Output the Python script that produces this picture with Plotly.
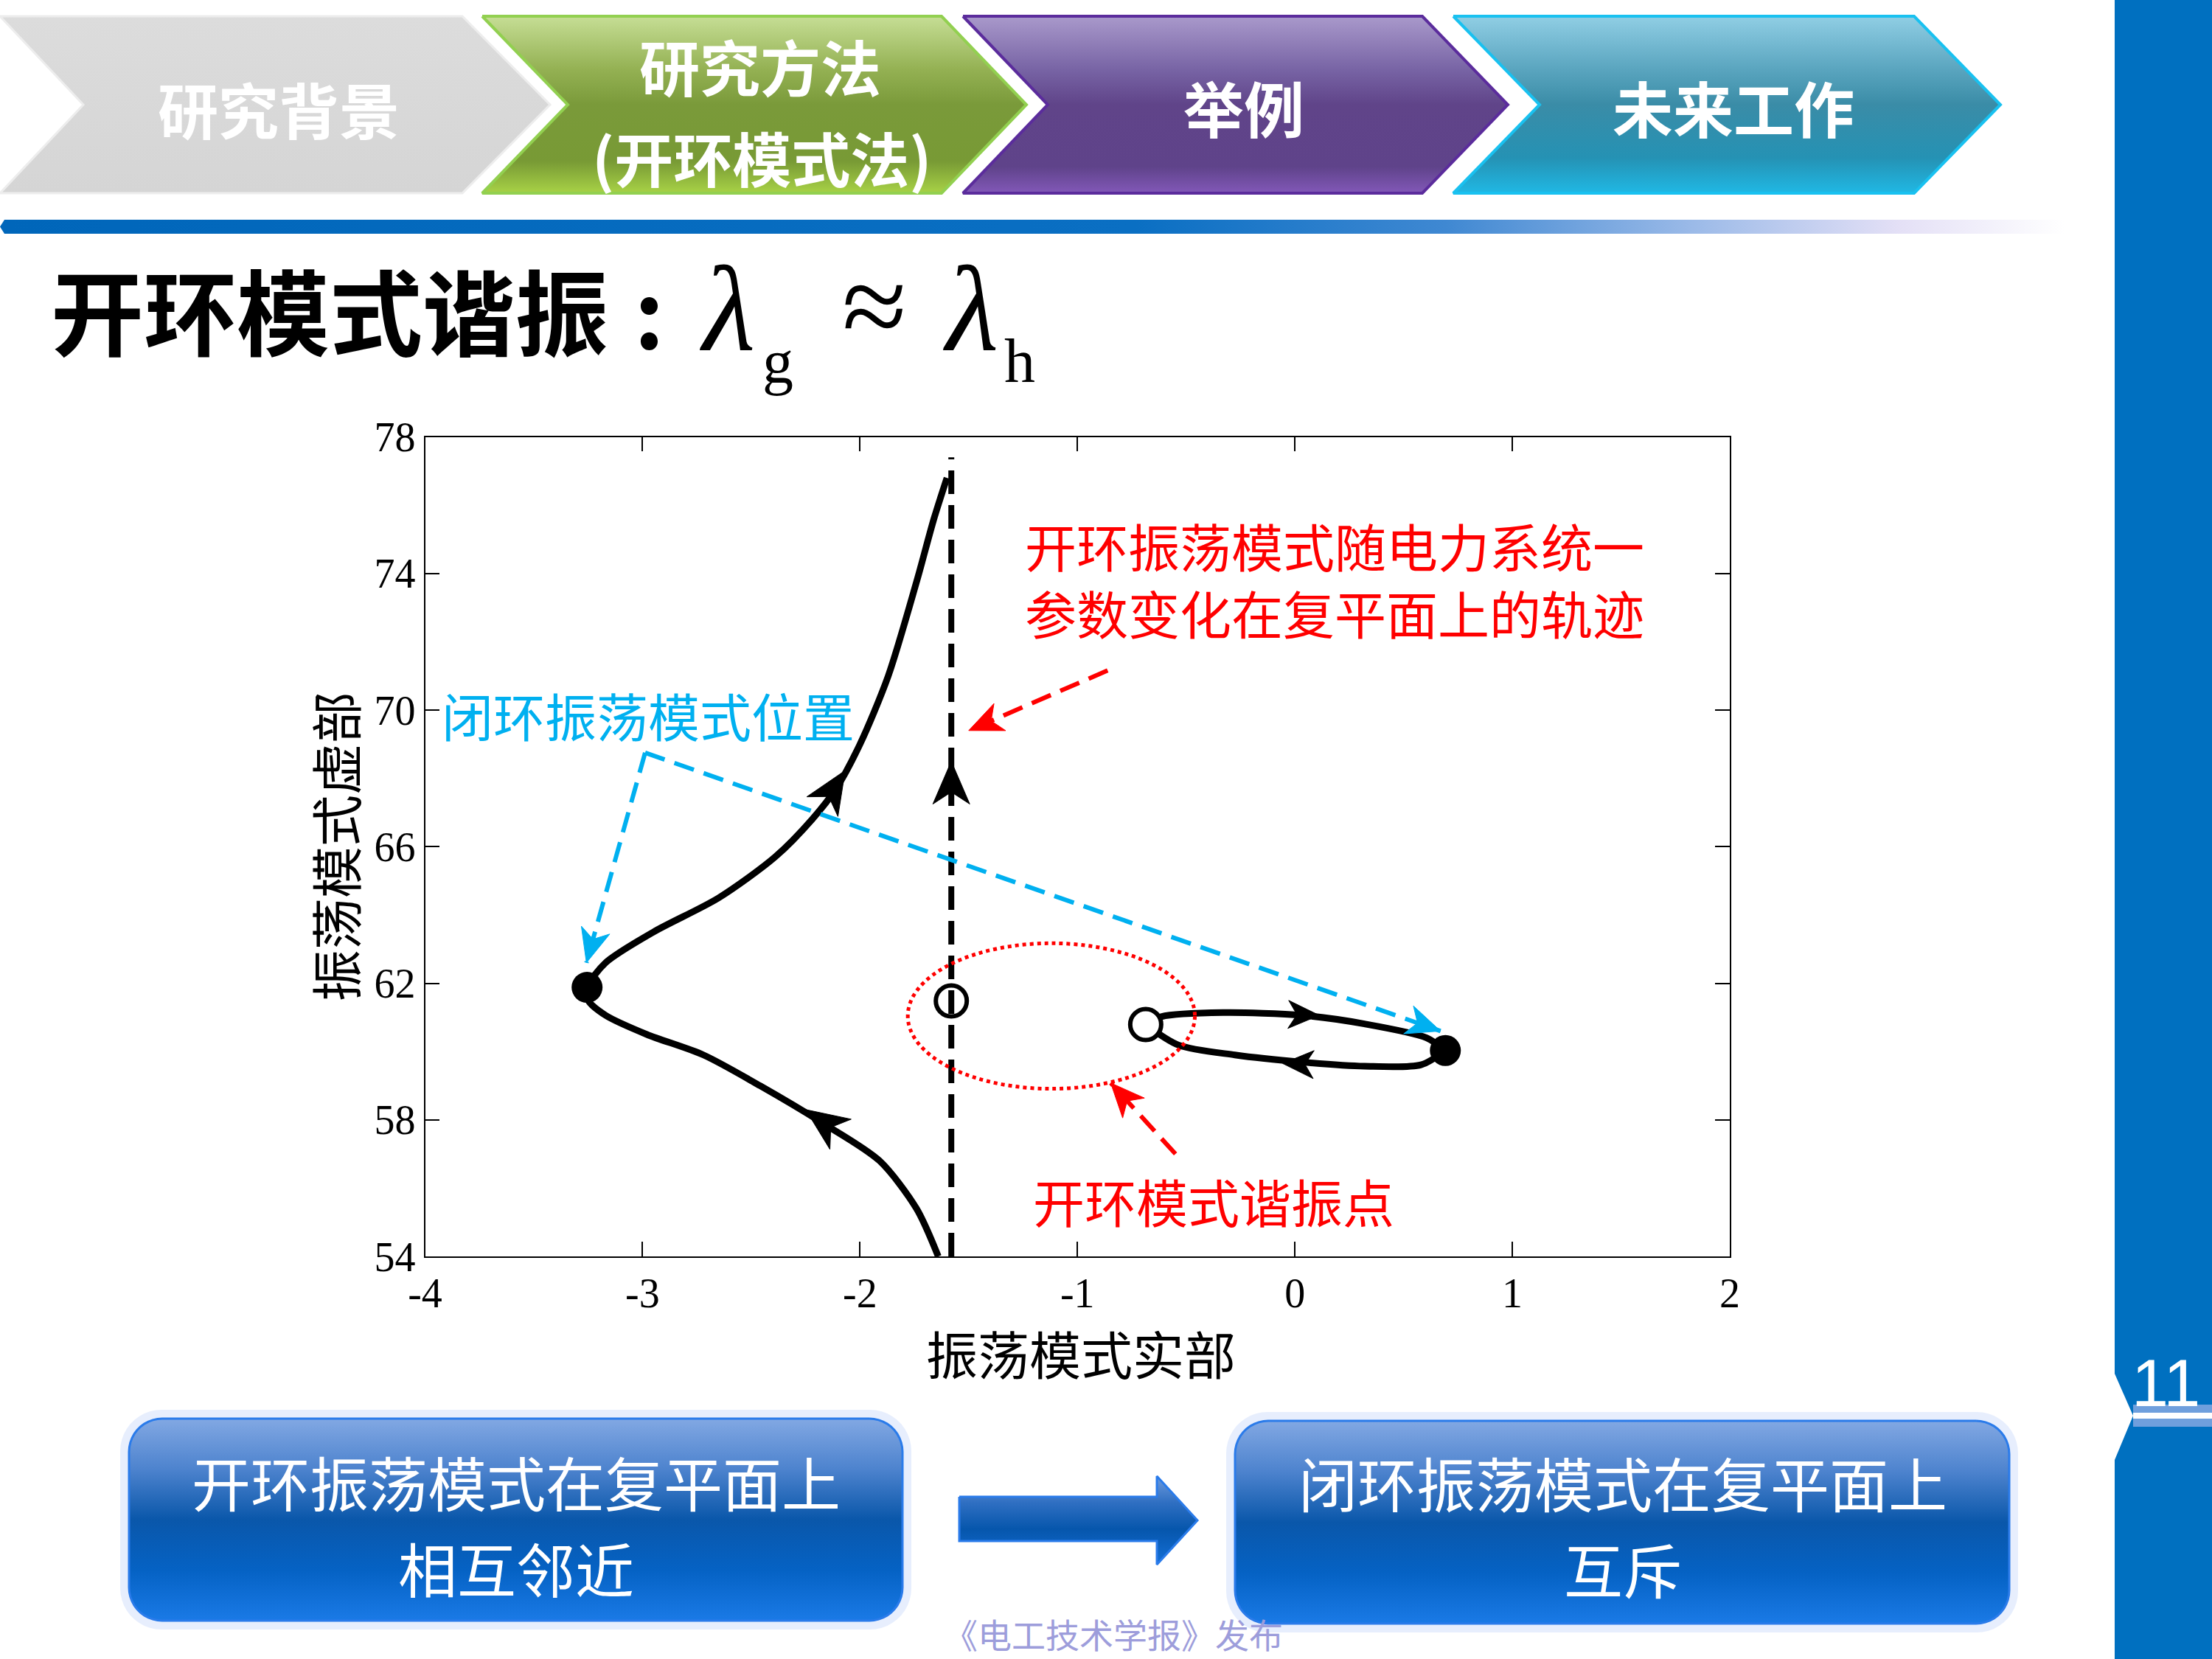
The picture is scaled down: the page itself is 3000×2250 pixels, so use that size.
import numpy as np
import plotly.graph_objects as go

# ---------------- chart data ----------------
x_tick_vals = [-4, -3, -2, -1, 0, 1, 2]
x_tick_text = ["-4", "-3", "-2", "-1", "0", "1", "2"]
y_tick_vals = [54, 58, 62, 66, 70, 74, 78]
y_tick_text = ["54", "58", "62", "66", "70", "74", "78"]

# closed-loop locus (solid black curve), from bottom start to the top end
locus_x = [-1.64, -1.74, -1.91, -2.17, -2.46, -2.72, -2.98, -3.17, -3.25, -3.255,
           -3.17, -2.95, -2.65, -2.39, -2.22, -2.11, -2.00, -1.87, -1.74, -1.66, -1.60]
locus_y = [54.0, 55.4, 56.8, 57.9, 59.0, 59.9, 60.5, 61.06, 61.5, 61.88,
           62.6, 63.5, 64.5, 65.7, 66.8, 67.7, 69.0, 71.0, 73.75, 75.6, 76.8]

# open-loop locus (black dashed vertical line)
open_x = [-1.58, -1.58]
open_y = [54.0, 77.4]

# loop near the right
loop_upper_x = [-0.686, -0.614, -0.329, 0.034, 0.32, 0.606, 0.692]
loop_upper_y = [60.79, 61.02, 61.14, 61.06, 60.81, 60.40, 60.03]
loop_lower_x = [0.692, 0.58, 0.32, 0.034, -0.276, -0.535, -0.686]
loop_lower_y = [60.03, 59.61, 59.57, 59.69, 59.90, 60.19, 60.79]

# points
filled_x = [-3.255, 0.692]
filled_y = [61.88, 60.03]
hollow_x = [-0.686]
hollow_y = [60.79]
ring_x = [-1.58]
ring_y = [61.48]

# direction arrows on the loci (previous point -> tip)
dir_prev_x = [-1.95, -2.20, -1.58, -0.20, 0.30]
dir_prev_y = [56.95, 66.9, 66.0, 61.12, 59.57]
dir_tip_x = [-2.25, -2.068, -1.58, 0.112, -0.056]
dir_tip_y = [58.30, 68.23, 68.5, 61.06, 59.65]

# annotation pointers (start -> tip)
red1_x = [-0.861, -1.50]
red1_y = [71.16, 69.40]
red2_x = [-0.549, -0.847]
red2_y = [57.00, 59.08]
blue1_x = [-2.988, -3.258]
blue1_y = [68.75, 62.60]
blue2_x = [-2.988, 0.67]
blue2_y = [68.75, 60.60]

# resonance ellipse (centre, semi-axes)
ell_c = (-1.12, 61.04)
ell_r = (0.66, 2.13)

RED = "#FF0000"
BLUE = "#00B0F0"
CJK = "Noto Sans CJK SC"
SERIF = "Liberation Serif"

W, H = 3000, 2250
XD = [576.5 / W, 2346 / W]
YD = [1 - 1704 / H, 1 - 592.5 / H]
XR = [-4, 2]
YR = [54, 78]
SX = (XD[1] - XD[0]) * W / (XR[1] - XR[0])   # px per x unit
SY = (YD[1] - YD[0]) * H / (YR[1] - YR[0])   # px per y unit

fig = go.Figure()


def head(tip, prev, L, Wd, color, notch=0.72):
    dx = (tip[0] - prev[0]) * SX
    dy = (tip[1] - prev[1]) * SY
    n = np.hypot(dx, dy)
    ux, uy = dx / n, dy / n
    px, py = -uy, ux
    pts = [(0, 0), (-L * ux + Wd / 2 * px, -L * uy + Wd / 2 * py),
           (-notch * L * ux, -notch * L * uy),
           (-L * ux - Wd / 2 * px, -L * uy - Wd / 2 * py), (0, 0)]
    fig.add_trace(go.Scatter(x=[tip[0] + a / SX for a, b in pts], y=[tip[1] + b / SY for a, b in pts],
                             mode="lines", fill="toself", fillcolor=color,
                             line=dict(color=color, width=1), hoverinfo="skip"))


# ---------------- chart traces ----------------
fig.add_trace(go.Scatter(x=open_x, y=open_y, mode="lines",
                         line=dict(color="black", width=8, dash="32px,15px"), hoverinfo="skip"))
for xs, ys in [(locus_x, locus_y), (loop_upper_x, loop_upper_y), (loop_lower_x, loop_lower_y)]:
    fig.add_trace(go.Scatter(x=xs, y=ys, mode="lines",
                             line=dict(color="black", width=9, shape="spline", smoothing=0.8),
                             hoverinfo="skip"))

# dashed pointers with heads
for xs, ys, col in [(red1_x, red1_y, RED), (red2_x, red2_y, RED),
                    (blue1_x, blue1_y, BLUE), (blue2_x, blue2_y, BLUE)]:
    fig.add_trace(go.Scatter(x=xs, y=ys, mode="lines",
                             line=dict(color=col, width=6, dash="28px,14px"), hoverinfo="skip"))
    head((xs[1], ys[1]), (xs[0], ys[0]), 46, 40, col)

# direction arrowheads
for i in range(len(dir_tip_x)):
    L, Wd = (58, 50) if i < 3 else (42, 38)
    head((dir_tip_x[i], dir_tip_y[i]), (dir_prev_x[i], dir_prev_y[i]), L, Wd, "black")

fig.add_trace(go.Scatter(x=ring_x, y=ring_y, mode="markers",
                         marker=dict(symbol="circle-open", size=42, color="black", line=dict(width=6)),
                         hoverinfo="skip"))
fig.add_trace(go.Scatter(x=hollow_x, y=hollow_y, mode="markers",
                         marker=dict(symbol="circle", size=42, color="white",
                                     line=dict(color="black", width=6)), hoverinfo="skip"))
fig.add_trace(go.Scatter(x=filled_x, y=filled_y, mode="markers",
                         marker=dict(symbol="circle", size=42, color="black"), hoverinfo="skip"))

# ellipse
fig.add_shape(type="circle", xref="x", yref="y",
              x0=ell_c[0] - ell_r[0], x1=ell_c[0] + ell_r[0],
              y0=ell_c[1] - ell_r[1], y1=ell_c[1] + ell_r[1],
              line=dict(color=RED, width=5, dash="dot"), layer="above")

# chart texts
fig.add_annotation(x=-3.93, y=69.87, xref="x", yref="y", text="闭环振荡模式位置",
                   showarrow=False, xanchor="left", yanchor="middle",
                   font=dict(family=CJK, size=70, color=BLUE))
fig.add_annotation(x=-1.25, y=73.84, xref="x", yref="y",
                   text="开环振荡模式随电力系统一<br>参数变化在复平面上的轨迹",
                   showarrow=False, xanchor="left", yanchor="middle", align="left",
                   font=dict(family=CJK, size=70, color=RED))
fig.add_annotation(x=-1.21, y=55.63, xref="x", yref="y", text="开环模式谐振点",
                   showarrow=False, xanchor="left", yanchor="middle",
                   font=dict(family=CJK, size=70, color=RED))

# ---------------- page decoration (pixel-like page axis) ----------------


def poly(xs, ys, scale, start, stop, orient="vertical", lc="rgba(0,0,0,0)", lw=0):
    fig.add_trace(go.Scatter(x=xs, y=ys, xaxis="x2", yaxis="y2", mode="lines", fill="toself",
                             fillgradient=dict(type=orient, colorscale=scale, start=start, stop=stop),
                             line=dict(color=lc, width=lw), hoverinfo="skip"))


def solid(xs, ys, color):
    fig.add_trace(go.Scatter(x=xs, y=ys, xaxis="x2", yaxis="y2", mode="lines", fill="toself",
                             fillcolor=color, line=dict(width=0, color="rgba(0,0,0,0)"),
                             hoverinfo="skip"))


def rrect(x0, y0, x1, y1, r, n=12):
    xs, ys = [], []
    for cx, cy, a0, a1 in [(x1 - r, y0 + r, -90, 0), (x1 - r, y1 - r, 0, 90),
                           (x0 + r, y1 - r, 90, 180), (x0 + r, y0 + r, 180, 270)]:
        for t in np.linspace(np.radians(a0), np.radians(a1), n):
            xs.append(cx + r * np.cos(t))
            ys.append(cy + r * np.sin(t))
    xs.append(xs[0]); ys.append(ys[0])
    return xs, ys


def chevron(xl, xr, tip, notch, top=22, bot=262):
    mid = (top + bot) / 2
    return [xl, xr, tip, xr, xl, notch, xl], [top, top, mid, bot, bot, mid, top]


# chevrons
cx, cy = chevron(0, 627, 746, 113)
poly(cx, cy, [[0, "#DCDCDC"], [1, "#D5D5D5"]], 22, 262, lc="#EDEDED", lw=3)
cx, cy = chevron(654, 1277, 1392, 770)
poly(cx, cy, [[0, "#C6DE95"], [0.3, "#94B153"], [0.5, "#7A9A3A"], [0.82, "#789A35"], [1, "#A8D246"]],
     22, 262, lc="#92D050", lw=4)
cx, cy = chevron(1306, 1929, 2045, 1421)
poly(cx, cy, [[0, "#A999CB"], [0.3, "#7864A5"], [0.5, "#604489"], [0.85, "#5F438A"], [1, "#8258B8"]],
     22, 262, lc="#5B2C9C", lw=4)
cx, cy = chevron(1971, 2596, 2713, 2088)
poly(cx, cy, [[0, "#90CEE4"], [0.3, "#5AA5BF"], [0.5, "#3A8CA7"], [0.8, "#2592B4"], [1, "#20B8E4"]],
     22, 262, lc="#19C1F0", lw=4)

# gradient rule under the nav bar
poly([6, 2800, 2800, 6, 0, 6], [298, 298, 317, 317, 307.5, 298],
     [[0, "#0066BA"], [0.55, "#0A6FC3"], [0.7, "#3F88D2"], [0.82, "#9BBAE8"], [0.92, "#E4E0F6"], [1, "#FFFFFF"]],
     0, 2800, orient="horizontal")

# bottom boxes with glow
box_scale = [[0, "#82A8E3"], [0.25, "#4D83CE"], [0.5, "#0A57AA"], [0.75, "#0562C4"], [1, "#1A7AE6"]]
for (x0, y0, x1, y1) in [(175, 1924, 1224, 2198), (1675, 1927, 2725, 2202)]:
    gx, gy = rrect(x0 - 12, y0 - 12, x1 + 12, y1 + 12, 56)
    solid(gx, gy, "rgba(185,205,248,0.35)")
    bx, by = rrect(x0, y0, x1, y1, 45)
    poly(bx, by, box_scale, y0, y1, lc="#2A7BEA", lw=3)

# middle arrow
ax_ = [1301, 1569, 1569, 1624, 1569, 1569, 1301, 1301]
ay_ = [2030, 2030, 2002, 2062, 2122, 2090, 2090, 2030]
poly(ax_, ay_, [[0, "#6E9BDD"], [0.3, "#2F6FC2"], [0.6, "#0656AC"], [1, "#1570D8"]], 2002, 2122,
     lc="#2A7BEA", lw=3)

# right blue bar, page number marker
fig.add_shape(type="rect", xref="x2", yref="y2", x0=2868, x1=3000, y0=0, y1=2250,
              fillcolor="#0070C0", line=dict(width=0), layer="below")
fig.add_shape(type="rect", xref="x2", yref="y2", x0=2893, x1=3000, y0=1905, y1=1935,
              fillcolor="#6F9FDD", line=dict(width=0), layer="below")
fig.add_shape(type="rect", xref="x2", yref="y2", x0=2893, x1=3000, y0=1916, y1=1924,
              fillcolor="white", line=dict(width=0))
fig.add_shape(type="path", xref="x2", yref="y2", path="M 2868 1863 L 2893 1920 L 2868 1980 Z",
              fillcolor="white", line=dict(width=0))


def ptext(x, y, text, size, color, family=CJK, weight="normal", style="normal", xanchor="center"):
    fig.add_annotation(x=x, y=y, xref="x2", yref="y2", text=text, showarrow=False,
                       xanchor=xanchor, yanchor="middle", align="center",
                       font=dict(family=family, size=size, color=color, weight=weight, style=style))


# nav texts
ptext(378, 146, "研究背景", 82, "white", weight="bold")
ptext(1031, 88, "研究方法", 82, "white", weight="bold")
ptext(1033, 212, "(开环模式法)", 80, "white", weight="bold")
ptext(1687, 144, "举例", 82, "white", weight="bold")
ptext(2351, 144, "未来工作", 82, "white", weight="bold")

# slide title
ptext(447, 418, "开环模式谐振", 126, "black", weight="bold")
ptext(880, 418, ":", 126, "black", weight="bold")
ptext(986, 419, "λ", 165, "black", family=SERIF, style="italic")
ptext(1055, 490, "g", 84, "black", family=SERIF)
ptext(1186, 415, "≈", 160, "black", family=SERIF)
ptext(1316, 419, "λ", 165, "black", family=SERIF, style="italic")
ptext(1383, 489, "h", 84, "black", family=SERIF)

# axis titles
ptext(1466, 1834, "振荡模式实部", 70, "black")
fig.add_annotation(x=453, y=1148, xref="x2", yref="y2", text="振荡模式虚部", showarrow=False,
                   textangle=-90, xanchor="center", yanchor="middle",
                   font=dict(family=CJK, size=70, color="black"))

# box texts
ptext(700, 2008, "开环振荡模式在复平面上", 80, "white")
ptext(700, 2125, "相互邻近", 80, "white")
ptext(2201, 2009, "闭环振荡模式在复平面上", 80, "white")
ptext(2201, 2126, "互斥", 80, "white")

# footer and page number
ptext(1510, 2215, "《电工技术学报》发布", 46, "#9D9DDB")
ptext(2937, 1876, "11", 90, "white", family="Liberation Sans")

# ---------------- layout ----------------
axis_common = dict(ticks="inside", ticklen=20, tickwidth=1.5, tickcolor="black",
                   showline=True, linecolor="black", linewidth=1.5, mirror="allticks",
                   showgrid=False, zeroline=False, fixedrange=True, automargin=False,
                   tickfont=dict(family=SERIF, size=56, color="black"))
fig.update_layout(
    width=W, height=H, autosize=False,
    margin=dict(l=0, r=0, t=0, b=0, pad=0, autoexpand=False),
    paper_bgcolor="white", plot_bgcolor="rgba(0,0,0,0)", showlegend=False,
    xaxis=dict(domain=XD, range=XR, tickvals=x_tick_vals, ticktext=x_tick_text, anchor="y", **axis_common),
    yaxis=dict(domain=YD, range=YR, tickvals=y_tick_vals, ticktext=y_tick_text, anchor="x", **axis_common),
    xaxis2=dict(domain=[0, 1], range=[0, W], visible=False, fixedrange=True, anchor="y2", automargin=False),
    yaxis2=dict(domain=[0, 1], range=[H, 0], visible=False, fixedrange=True, anchor="x2", automargin=False),
)

fig.write_html("out.html", config={"displayModeBar": False, "responsive": False},
               post_script="document.body.style.margin='0';document.body.style.overflow='hidden';")
